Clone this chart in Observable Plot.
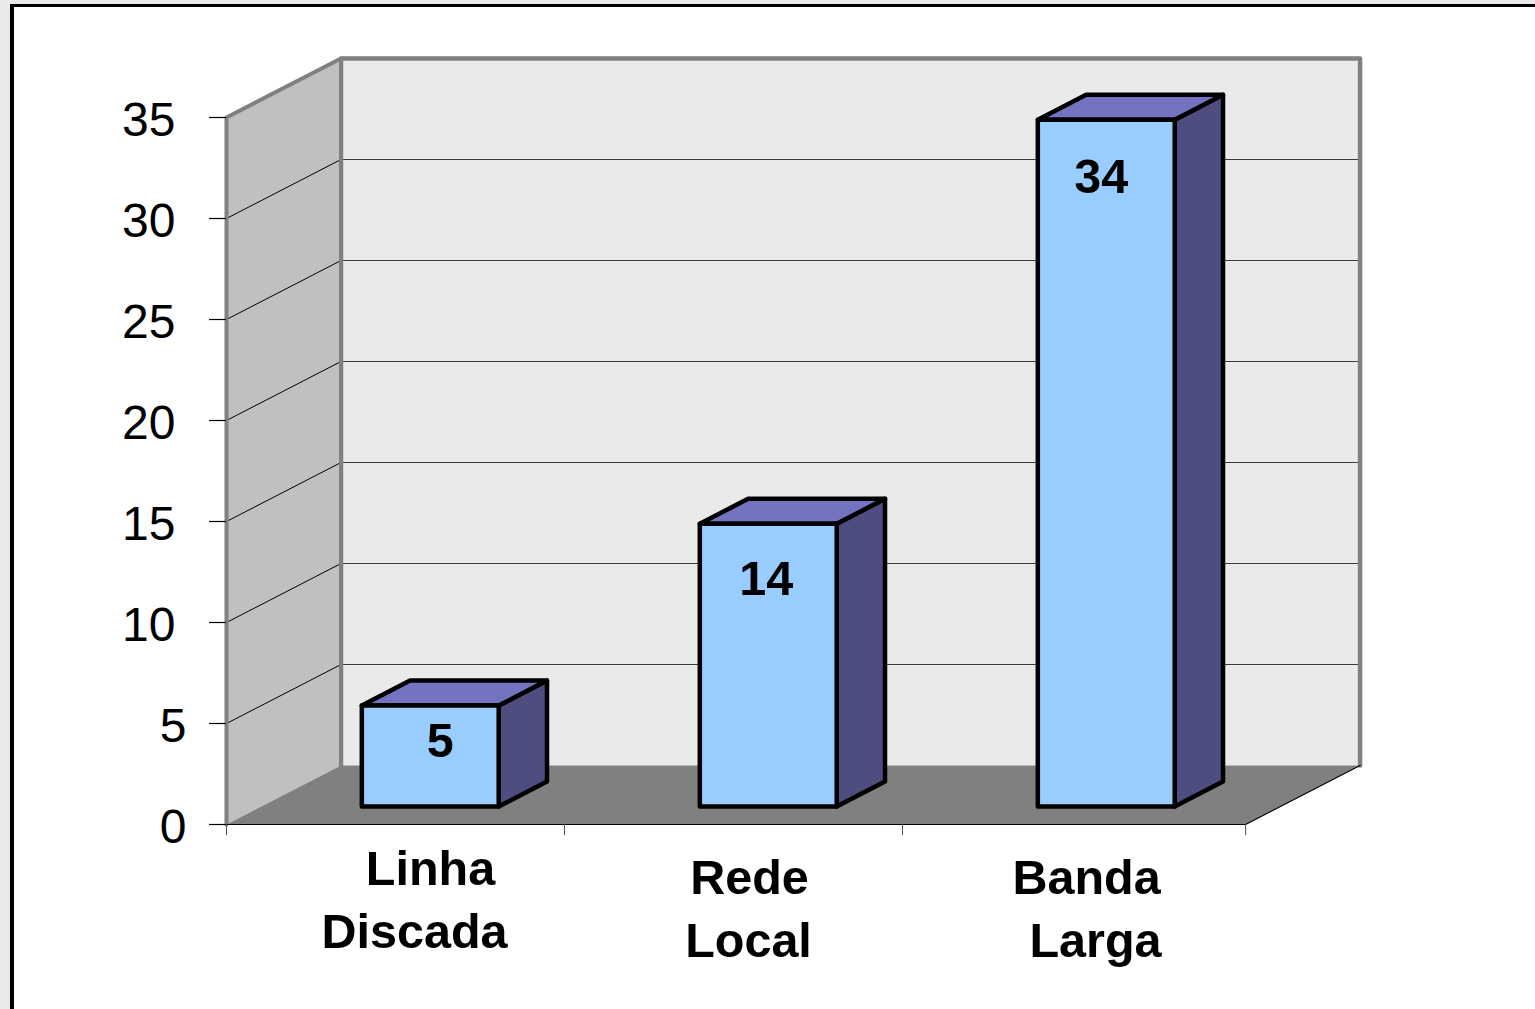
<!DOCTYPE html>
<html lang="pt">
<head>
<meta charset="utf-8">
<script src="https://cdn.jsdelivr.net/npm/d3@7"></script>
<script src="https://cdn.jsdelivr.net/npm/@observablehq/plot@0.6"></script>
<style>
html,body{margin:0;padding:0;background:#eaeaea;overflow:hidden;width:1535px;height:1009px}
#frame{position:absolute;left:10px;top:4px;width:1525px;height:1005px;box-sizing:border-box;background:#fff;border-left:4px solid #000;border-top:3px solid #000}
#chart{position:absolute;left:0;top:0}
</style>
</head>
<body>
<div id="frame"></div>
<div id="chart"></div>
<script>
const categories = ["Linha Discada", "Rede Local", "Banda Larga"];
const values = [5, 14, 34];
const yTicksWide = [10, 15, 20, 25, 30, 35];
const yTicksNarrow = [0, 5];
const labelLines = [["Linha", "Discada"], ["Rede", "Local"], ["Banda", "Larga"]];

// projection of the oblique 3D box, in data units
const axisEnd = 3.015;
const kx = 114.5 / 338, ky = 59 / 20.2;
const barGap = 0.297, barWidth = 0.405, depthFront = 0.305, depthBack = 0.727;
const P = (c, v, d = 0) => ({x: c + d * kx, y: v + d * ky});
const poly = (pts, o) => Plot.line(pts, {x: "x", y: "y", strokeLinejoin: "round", ...o});

const wallGrey = "#808080";
const bars = values.map((v, i) => {
  const a = i + barGap, b = a + barWidth;
  return {
    front: [P(a,0,depthFront), P(b,0,depthFront), P(b,v,depthFront), P(a,v,depthFront), P(a,0,depthFront)],
    top: [P(a,v,depthFront), P(b,v,depthFront), P(b,v,depthBack), P(a,v,depthBack), P(a,v,depthFront)],
    side: [P(b,0,depthFront), P(b,0,depthBack), P(b,v,depthBack), P(b,v,depthFront), P(b,0,depthFront)]
  };
});
const barStyle = {stroke: "#000", strokeWidth: 4.5};
const labelOffsets = [[35, 19], [16, 15], [15, 24]];   // per-line horizontal nudges around the category centre (px)
const labelDrop = [[45, 108], [54, 117], [54, 117]];
const valueDx = [45, 33, 30], valueDy = [18, 38, 40];
const labelFont = 48.5;

const gridVals = [5, 10, 15, 20, 25, 30];
const gridBack = gridVals.flatMap(v => [{v, ...P(0, v, 1)}, {v, ...P(axisEnd, v, 1)}]);
const gridLeft = gridVals.flatMap(v => [{v, ...P(0, v, 0)}, {v, ...P(0, v, 1)}]);

const textLines = labelLines.flatMap((ls, i) => ls.map((t, j) => ({t, i, j})));

const plot = Plot.plot({
  width: 1535, height: 1009,
  marginLeft: 226, marginRight: 295, marginTop: 117, marginBottom: 185,
  x: {domain: [0, 3], axis: null},
  y: {domain: [0, 35], axis: null},
  style: {background: "transparent", fontFamily: "'Liberation Sans', Arial, sans-serif"},
  marks: [
    // back wall
    poly([P(0,0,1), P(axisEnd,0,1), P(axisEnd,35,1), P(0,35,1), P(0,0,1)], {fill: "#eaeaea", stroke: "none"}),
    poly(gridBack, {z: "v", stroke: "#000", strokeWidth: 1, strokeOpacity: 0.75}),
    // wall outline
    poly([P(axisEnd,0,1), P(axisEnd,35,1), P(0,35,1), P(0,0,1)], {stroke: wallGrey, strokeWidth: 4.5}),
    // left wall
    poly([P(0,0,0), P(0,35,0), P(0,35,1), P(0,0,1), P(0,0,0)], {fill: "#c0c0c0", stroke: "none"}),
    poly(gridLeft, {z: "v", stroke: "#000", strokeWidth: 1}),
    poly([P(0,0,0), P(0,35,0), P(0,35,1), P(0,0,1)], {stroke: wallGrey, strokeWidth: 4}),
    // floor
    poly([P(0,0,0), P(axisEnd,0,0), P(axisEnd,0,1), P(0,0,1), P(0,0,0)], {fill: wallGrey, stroke: "none"}),
    poly([P(0,0,0), P(axisEnd,0,0), P(axisEnd,0,1)], {stroke: "#000", strokeWidth: 1.2}),
    // axes
    Plot.axisY([...yTicksNarrow, ...yTicksWide], {anchor: "left", label: null, tickSize: 17, tickFormat: () => "", strokeWidth: 1.2}),
    Plot.axisY(yTicksWide, {anchor: "left", label: null, tickSize: 0, tickPadding: 51, fontSize: 48, fill: "#000", dy: 3, tickFormat: d => d}),
    Plot.axisY(yTicksNarrow, {anchor: "left", label: null, tickSize: 0, tickPadding: 40, fontSize: 48, fill: "#000", dy: 3, tickFormat: d => d}),
    Plot.ruleX([0, 1, 2, axisEnd], {x: d => d, y1: 0, y2: -0.55, stroke: "#555", strokeWidth: 1}),
    // bars
    ...bars.flatMap(b => [
      poly(b.side, {fill: "#4d4d80", ...barStyle}),
      poly(b.top, {fill: "#7373bf", ...barStyle}),
      poly(b.front, {fill: "#99ccff", ...barStyle})
    ]),
    // value labels
    Plot.text(values, {
      x: (d, i) => i + barGap + barWidth / 2, y: d => d, text: d => String(d),
      fontSize: labelFont, fontWeight: 700, fill: "#000",
      render(index, scales, channels, dims, ctx, next) {
        const g = next(index, scales, channels, dims, ctx);
        d3.select(g).selectAll("text").each(function(_, k) {
          d3.select(this).attr("dx", valueDx[index[k]]).attr("dy", valueDy[index[k]]);
        });
        return g;
      }
    }),
    // category labels
    Plot.text(textLines, {
      x: d => d.i + 0.5, y: 0, text: "t", fontSize: labelFont, fontWeight: 700, fill: "#000",
      render(index, scales, channels, dims, ctx, next) {
        const g = next(index, scales, channels, dims, ctx);
        d3.select(g).selectAll("text").each(function(_, k) {
          const d = textLines[index[k]];
          d3.select(this).attr("dx", labelOffsets[d.i][d.j]).attr("dy", labelDrop[d.i][d.j]);
        });
        return g;
      }
    })
  ]
});
document.getElementById("chart").appendChild(plot);
</script>
</body>
</html>
